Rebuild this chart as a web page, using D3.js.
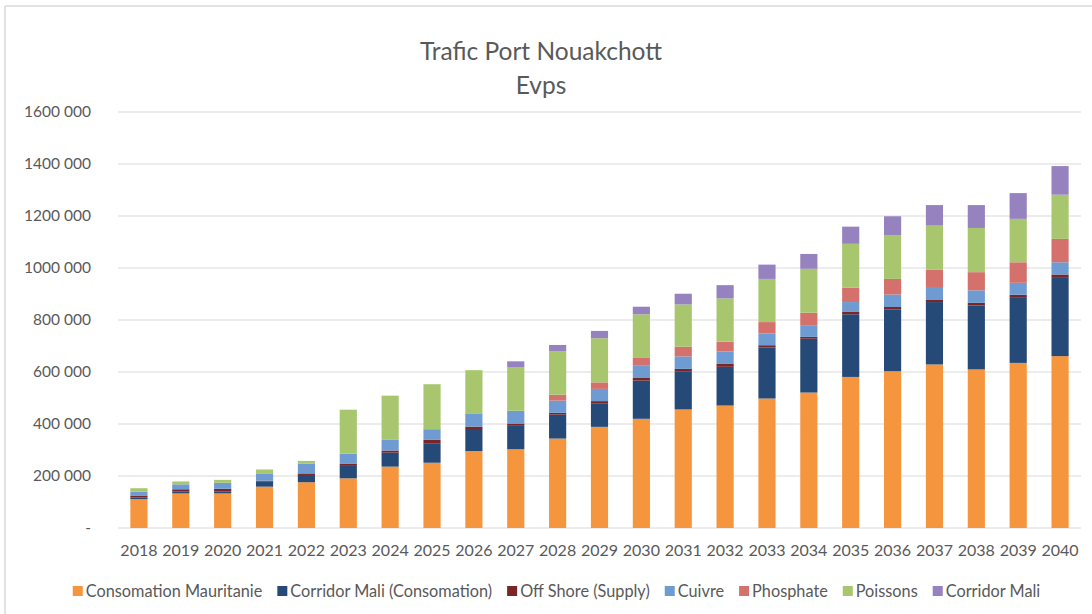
<!DOCTYPE html>
<html>
<head>
<meta charset="utf-8">
<script src="https://cdn.jsdelivr.net/npm/d3@7"></script>
<style>
  body { margin: 0; background: #fff; }
  text { font-family: Lato, "Open Sans", sans-serif; fill: #595959; }
</style>
</head>
<body>
<svg id="chart"></svg>
<script>
//data (Evps)
const years = ["2018","2019","2020","2021","2022","2023","2024","2025","2026","2027","2028",
  "2029","2030","2031","2032","2033","2034","2035","2036","2037","2038","2039","2040"];

const seriesNames = ["Consomation Mauritanie", "Corridor Mali (Consomation)", "Off Shore (Supply)",
  "Cuivre", "Phosphate", "Poissons", "Corridor Mali"];

const consoMauritanie = [111000,133000,133000,159000,176000,191000,236000,251000,296000,303000,344000,
  389000,420000,456000,471000,498000,521000,581000,603000,629000,610000,635000,661000];
const corridorMaliConso = [6000,8000,8000,19000,28000,51000,54000,75000,81000,90000,92000,
  89000,147000,147000,149000,196000,207000,241000,238000,240000,246000,253000,304000];
const offShore = [8000,8000,10000,4000,6000,6000,8000,13000,13000,9000,7000,
  10000,10000,9000,11000,9000,7000,9000,9000,10000,10000,9000,10000];
const cuivre = [15000,19000,23000,28000,38000,38000,41000,41000,51000,49000,47000,
  47000,47000,48000,48000,45000,45000,38000,48000,48000,48000,46000,47000];
const phosphate = [0,0,0,0,0,0,0,0,0,0,23000,
  25000,30000,37000,38000,44000,48000,55000,60000,66000,70000,79000,90000];
const poissons = [13000,11000,11000,15000,10000,169000,170000,173000,166000,168000,166000,
  170000,168000,163000,166000,166000,169000,169000,169000,170000,170000,167000,170000];
const corridorMali = [0,0,0,0,0,0,0,0,0,22000,25000,
  28000,29000,41000,51000,55000,57000,66000,72000,79000,88000,99000,110000];

const yTicks = [0,200000,400000,600000,800000,1000000,1200000,1400000,1600000];

const colors = ["#F5963F","#264A78","#7A2526","#6E9BD1","#D4716D","#A8C66E","#9682BF"];

//build table for the stack
const allSeries = [consoMauritanie, corridorMaliConso, offShore, cuivre, phosphate, poissons, corridorMali];
const table = years.map((y, i) => {
  const row = { year: y };
  seriesNames.forEach((s, k) => row[s] = allSeries[k][i]);
  return row;
});

const width = 1092, height = 614;
const margin = { left: 118, right: 11, top: 112, bottom: 86 };

const svg = d3.select("#chart").attr("width", width).attr("height", height);

//chart frame (left and top edges only visible)
svg.append("line").attr("x1", 5).attr("x2", width).attr("y1", 6).attr("y2", 6)
  .attr("stroke", "#d9d9d9").attr("stroke-width", 1.5);
svg.append("line").attr("x1", 5).attr("x2", 5).attr("y1", 6).attr("y2", height)
  .attr("stroke", "#d9d9d9").attr("stroke-width", 1.5);

const x = d3.scaleBand().domain(years)
  .range([margin.left, width - margin.right]).paddingInner(0.59).paddingOuter(0.295);
const y = d3.scaleLinear().domain([0, 1600000]).range([height - margin.bottom, margin.top]);

//gridlines
svg.append("g").selectAll("line").data(yTicks).join("line")
  .attr("x1", margin.left).attr("x2", width - margin.right)
  .attr("y1", d => y(d)).attr("y2", d => y(d))
  .attr("stroke", "#d9d9d9").attr("stroke-width", 1);

//y labels
const fmtY = d => d === 0 ? "-" : Math.floor(d / 1000) + " 000";
svg.append("g").selectAll("text").data(yTicks).join("text")
  .attr("x", 91).attr("y", d => y(d)).attr("dy", "0.35em")
  .attr("text-anchor", "end").style("font-size", "15.5px")
  .text(fmtY);

//stacked bars
const stack = d3.stack().keys(seriesNames)(table);
svg.append("g").selectAll("g").data(stack).join("g")
  .attr("fill", (d, i) => colors[i])
  .selectAll("rect").data(d => d).join("rect")
  .attr("x", d => x(d.data.year))
  .attr("width", x.bandwidth())
  .attr("y", d => y(d[1]))
  .attr("height", d => y(d[0]) - y(d[1]));

//x labels
svg.append("g").selectAll("text").data(years).join("text")
  .attr("x", d => x(d) + x.bandwidth() / 2).attr("y", 556)
  .attr("text-anchor", "middle").style("font-size", "16px")
  .text(d => d);

//title
svg.append("text").attr("x", 541).attr("y", 60).attr("text-anchor", "middle")
  .style("font-size", "24.5px").text("Trafic Port Nouakchott");
svg.append("text").attr("x", 541).attr("y", 94).attr("text-anchor", "middle")
  .style("font-size", "24.5px").text("Evps");

//legend
const legend = svg.append("g");
const items = legend.selectAll("g").data(seriesNames).join("g");
items.append("rect").attr("width", 10).attr("height", 10).attr("y", -5)
  .attr("fill", (d, i) => colors[i]);
items.append("text").attr("x", 13).attr("dy", "0.35em")
  .style("font-size", "16.3px").text(d => d);
let cx = 0;
items.each(function() {
  const w = this.getBBox().width;
  d3.select(this).attr("transform", `translate(${cx},0)`);
  cx += w + 15;
});
legend.attr("transform", `translate(${(73 + 1040) / 2 - (cx - 15) / 2},591)`);
</script>
</body>
</html>
